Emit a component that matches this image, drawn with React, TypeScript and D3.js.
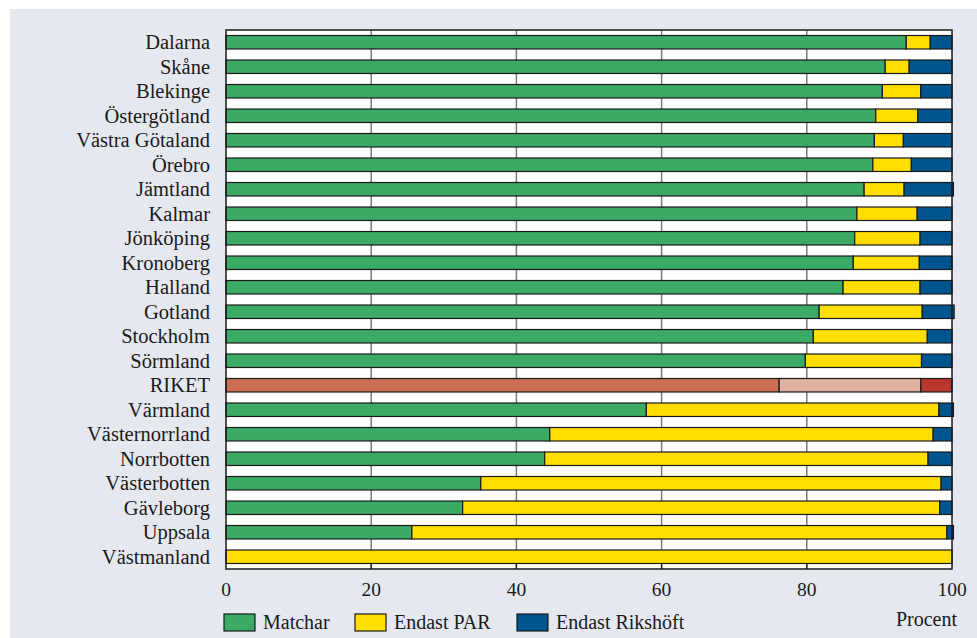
import React from 'react';
import * as d3 from 'd3';

const regions = [
  'Dalarna', 'Skåne', 'Blekinge', 'Östergötland', 'Västra Götaland', 'Örebro',
  'Jämtland', 'Kalmar', 'Jönköping', 'Kronoberg', 'Halland', 'Gotland',
  'Stockholm', 'Sörmland', 'RIKET', 'Värmland', 'Västernorrland', 'Norrbotten',
  'Västerbotten', 'Gävleborg', 'Uppsala', 'Västmanland',
];

// percent of cases
const matchar = [93.7, 90.8, 90.4, 89.5, 89.3, 89.1, 87.9, 86.9, 86.6, 86.4, 85.0, 81.7, 80.9, 79.8, 76.2, 57.9, 44.6, 43.9, 35.1, 32.6, 25.6, 0];
const endastPar = [3.3, 3.3, 5.3, 5.8, 4.0, 5.3, 5.5, 8.3, 9.0, 9.1, 10.6, 14.2, 15.7, 16.0, 19.5, 40.3, 52.8, 52.8, 63.4, 65.7, 73.7, 100];
const endastRikshoft = [3.0, 5.9, 4.3, 4.7, 6.7, 5.6, 6.8, 4.8, 4.4, 4.5, 4.4, 4.4, 3.4, 4.2, 4.3, 2.0, 2.6, 3.3, 1.5, 1.7, 0.9, 0];

const xTicks = [0, 20, 40, 60, 80, 100];
const seriesNames = ['Matchar', 'Endast PAR', 'Endast Rikshöft'];
const seriesColors = ['#3aaa64', '#ffde00', '#00558f'];
const riketColors = ['#cb6e55', '#e0b29f', '#b8372e'];

const W = 977;
const H = 638;
const plot = { left: 226, right: 952, top: 30, bottom: 569 };
const font = '"Liberation Serif", "DejaVu Serif", serif';

export default function App() {
  const x = d3.scaleLinear().domain([0, 100]).range([plot.left, plot.right]);
  const y = d3.scaleBand<string>()
    .domain(regions)
    .range([plot.top, plot.bottom])
    .paddingInner(0.45)
    .paddingOuter(0.225);

  const rows = regions.map((r, i) => ({
    region: r, matchar: matchar[i], par: endastPar[i], riks: endastRikshoft[i],
  }));
  const stack = d3.stack<typeof rows[0]>().keys(['matchar', 'par', 'riks'])(rows);

  const legendX = [224, 355, 517];

  return (
    <div style={{ position: 'absolute', left: 0, top: 0 }}>
      <svg width={W} height={H} style={{ display: 'block', fontFamily: font }}>
        <rect x={0} y={0} width={W} height={H} fill="#ffffff" />
        <rect x={10} y={9} width={W - 10} height={H - 9} fill="#e6e8f0" />
        <rect x={plot.left} y={plot.top} width={plot.right - plot.left} height={plot.bottom - plot.top} fill="#ffffff" />

        {/* grid */}
        {xTicks.slice(1, -1).map(t => (
          <line key={t} x1={x(t)} x2={x(t)} y1={plot.top} y2={plot.bottom} stroke="#7a7a7a" strokeWidth={1.5} />
        ))}
        {xTicks.slice(1, -1).map(t => (
          <line key={'tk' + t} x1={x(t)} x2={x(t)} y1={plot.bottom - 5} y2={plot.bottom} stroke="#111" strokeWidth={1.2} />
        ))}

        {/* bars */}
        {stack.map((layer, si) => (
          <g key={layer.key}>
            {layer.map((d, i) => {
              const w = x(d[1]) - x(d[0]);
              if (w <= 0) return null;
              const isRiket = regions[i] === 'RIKET';
              return (
                <rect key={regions[i]} x={x(d[0])} y={y(regions[i])} width={w} height={y.bandwidth()}
                  fill={isRiket ? riketColors[si] : seriesColors[si]} stroke="#1a1a1a" strokeWidth={1.2} />
              );
            })}
          </g>
        ))}

        <rect x={plot.left} y={plot.top} width={plot.right - plot.left} height={plot.bottom - plot.top}
          fill="none" stroke="#1a1a1a" strokeWidth={1.5} />

        {/* category labels */}
        {regions.map(r => (
          <text key={r} x={210} y={(y(r) ?? 0) + y.bandwidth() / 2} dy="0.35em" textAnchor="end"
            fontSize={20.5} fill="#1a1a1a">{r}</text>
        ))}

        {/* x tick labels */}
        {xTicks.map(t => (
          <text key={t} x={x(t)} y={596} textAnchor="middle" fontSize={19.5} fill="#1a1a1a">{t}</text>
        ))}

        {/* legend */}
        {seriesNames.map((s, i) => (
          <g key={s}>
            <rect x={legendX[i]} y={614} width={31} height={17} fill={seriesColors[i]} stroke="#1a1a1a" strokeWidth={1.2} />
            <text x={legendX[i] + 39} y={629} fontSize={20} fill="#1a1a1a">{s}</text>
          </g>
        ))}
        <text x={957} y={626} textAnchor="end" fontSize={20} fill="#1a1a1a">Procent</text>
      </svg>
    </div>
  );
}
